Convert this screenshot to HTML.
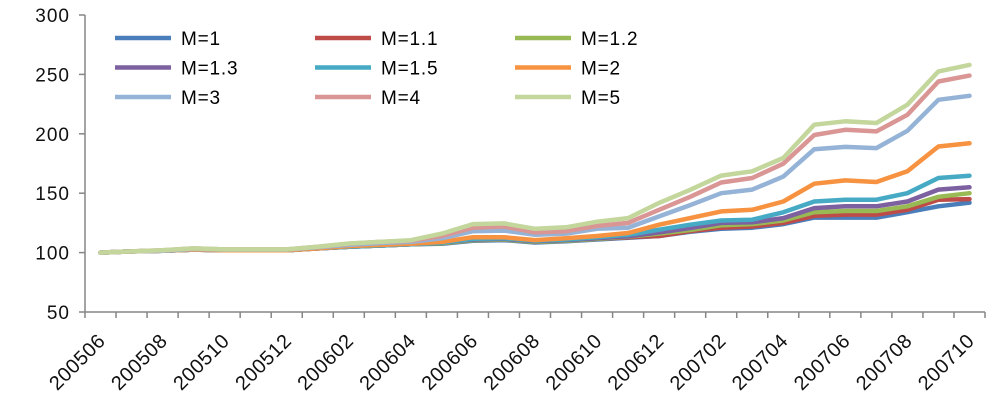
<!DOCTYPE html>
<html><head><meta charset="utf-8"><style>
html,body{margin:0;padding:0;background:#fff;}
svg{display:block;font-family:"Liberation Sans",sans-serif;}
</style></head><body>
<svg id="chart" width="996" height="411" viewBox="0 0 996 411"></svg>
<script>
const categories=["200506","200507","200508","200509","200510","200511","200512","200601","200602","200603","200604","200605","200606","200607","200608","200609","200610","200611","200612","200701","200702","200703","200704","200705","200706","200707","200708","200709","200710"];
const yTicks=[50,100,150,200,250,300];
const seriesNames=["M=1","M=1.1","M=1.2","M=1.3","M=1.5","M=2","M=3","M=4","M=5"];
const seriesColors=["#4a7ebb","#be4b48","#98b954","#7d60a0","#46aac5","#f69240","#95b3d7","#d99694","#c3d69b"];
const m1 =[100,101,101.5,102.5,102,102,102,103.5,105,106,107,107.5,110,110.5,108.5,109.5,111,112.5,114,117.5,120,121,124,129.5,129.5,129.5,134,139,142];
const m11=[100,101,101.5,102.5,102,102,102,103.5,105,106,107,108,110.5,111,109,110,111.5,113,114,118,121,122,125,131,132,132,136,144.5,145];
const m12=[100,101,101.5,102.5,102,102,102,103.5,105,106,107,108,110.5,111,109,110,111.5,113.5,116,119,123,124,127,134,135,135,139,147,150];
const m13=[100,101,101.5,102.5,102,102,102,103.5,105,106,107,108.5,111,111.5,109.5,110.5,112,113.7,117,120.7,125,125.5,129,137.5,139,139,143,153,155];
const m15=[100,101,101.5,102.5,102,102,102,103.5,105,106,107,108.5,111.5,112,110,111,113,115,119.3,123.5,127,127.7,133.9,143,144.5,144.5,150,162.8,164.7];
const m2 =[100,101,101.5,102.5,102,102,102,103.5,105.5,106.5,107.5,109,113,113,110.5,112,114,116.5,123.5,129,134.7,136,143,158,160.8,159.4,168.4,189.3,192];
const m3 =[100,101,101.5,103,102.5,102.5,102.5,104.5,106.5,108,109,112,118,118.5,115,116,120,121,130.5,140,150,153,164,187,189,188,202.5,228.6,232];
const m4 =[100,101,102,103.5,102.7,102.7,102.7,105,107.5,109,110,114,121,122,117,118,122.5,125,136,147,159,162.8,174.8,199,203.4,202,216,244,249];
const m5 =[100,101,102,103.5,102.7,102.7,102.7,105,107.7,109,110.4,116,124,124.6,120,121.3,126,129,141.8,152.9,164.8,168.4,179.6,207.7,210.5,209.1,224.5,252.5,258];
const seriesValues=[m1,m11,m12,m13,m15,m2,m3,m4,m5];

const NS="http://www.w3.org/2000/svg";
const svg=document.getElementById('chart');
const X0=85,X1=985,YTOP=15,YBOT=312,YMIN=50,YMAX=300;
const bw=(X1-X0)/categories.length;
function xPos(i){return X0+bw*(i+0.5);}
function yPos(v){return YBOT-(v-YMIN)/(YMAX-YMIN)*(YBOT-YTOP);}
function mk(tag,attrs){const e=document.createElementNS(NS,tag);for(const k in attrs)e.setAttribute(k,attrs[k]);svg.appendChild(e);return e;}

let ya=mk('line',{x1:X0,y1:YTOP,x2:X0,y2:YBOT,stroke:'#868686','stroke-width':1.5});


yTicks.forEach(v=>{
  const t=mk('line',{x1:X0-6,y1:yPos(v),x2:X0,y2:yPos(v),stroke:'#868686','stroke-width':1.5});
  
  
  const l=mk('text',{x:X0-15,y:yPos(v)+7,'text-anchor':'end','font-size':19,'letter-spacing':1,fill:'#111'});
  l.textContent=v;
  
  
});
let xa=mk('line',{x1:X0,y1:YBOT,x2:X1,y2:YBOT,stroke:'#868686','stroke-width':1.5});


for(let i=0;i<=categories.length;i++){
  const x=X0+bw*i;
  const t=mk('line',{x1:x,y1:YBOT,x2:x,y2:YBOT+6,stroke:'#868686','stroke-width':1.5});
  
  
}
categories.forEach((c,i)=>{
  if(i%2!==0)return;
  const x=xPos(i)+6,y=YBOT+30;
  const l=mk('text',{x:x,y:y,'text-anchor':'end','font-size':20,'letter-spacing':0.5,fill:'#111',transform:`rotate(-45 ${x} ${y})`});
  l.textContent=c;
  
  
});
seriesValues.forEach((vals,s)=>{
  const pts=vals.map((v,i)=>xPos(i).toFixed(1)+','+yPos(v).toFixed(1)).join(' ');
  const p=mk('polyline',{points:pts,fill:'none',stroke:seriesColors[s],'stroke-width':4.5,'stroke-linejoin':'round','stroke-linecap':'round'});
  
  
});
seriesNames.forEach((n,s)=>{
  const col=s%3,row=Math.floor(s/3);
  const lx=115+col*200,ly=38+row*29.5;
  const g=document.createElementNS(NS,'g');svg.appendChild(g);
  
  
  const ln=document.createElementNS(NS,'line');
  ln.setAttribute('x1',lx);ln.setAttribute('y1',ly);ln.setAttribute('x2',lx+56);ln.setAttribute('y2',ly);
  ln.setAttribute('stroke',seriesColors[s]);ln.setAttribute('stroke-width',4.5);
  g.appendChild(ln);
  const tx=document.createElementNS(NS,'text');
  tx.setAttribute('x',lx+66);tx.setAttribute('y',ly+7);tx.setAttribute('font-size',19);tx.setAttribute('letter-spacing',0.8);
  tx.textContent=n;g.appendChild(tx);
});
</script>
</body></html>
